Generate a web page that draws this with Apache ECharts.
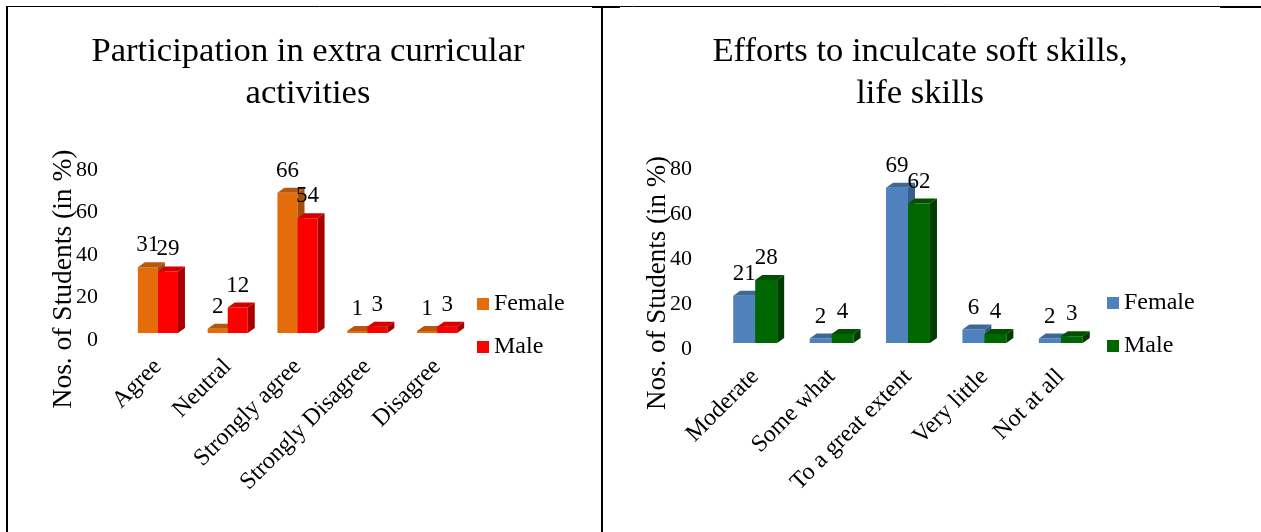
<!DOCTYPE html>
<html>
<head>
<meta charset="utf-8">
<script src="https://cdn.jsdelivr.net/npm/echarts@6/dist/echarts.min.js"></script>
<style>
html,body{margin:0;padding:0;background:#fff;}
#c{width:1261px;height:532px;}
</style>
</head>
<body>
<div id="c"></div>
<script>
// ---- data ----
const categoriesA = ['Agree', 'Neutral', 'Strongly agree', 'Strongly Disagree', 'Disagree'];
const femaleA = [31, 2, 66, 1, 1];
const maleA = [29, 12, 54, 3, 3];

const categoriesB = ['Moderate', 'Some what', 'To a great extent', 'Very little', 'Not at all'];
const femaleB = [21, 2, 69, 6, 2];
const maleB = [28, 4, 62, 4, 3];

const yTicks = [0, 20, 40, 60, 80];
const titleA = 'Participation in extra curricular\nactivities';
const titleB = 'Efforts to inculcate soft skills,\nlife skills';
const yName = 'Nos. of Students (in %)';

// ---- styles ----
const FONT = '"Liberation Serif", "Times New Roman", serif';
const colA = { f: ['#E46C0A', '#B4580C', '#A04E0A'], m: ['#FF0000', '#D40000', '#A80000'] };
const colB = { f: ['#4F81BD', '#3E6896', '#385D8A'], m: ['#006600', '#005000', '#003C00'] };

function make3D(colors, side) {
  return function (params, api) {
    const cat = api.value(0), val = api.value(1);
    const base = api.coord([cat, 0]);
    const top = api.coord([cat, val]);
    const band = api.size([1, 0])[0];
    const bw = band * 0.2875;
    const x0 = side < 0 ? base[0] - bw : base[0];
    const x1 = x0 + bw;
    const yb = base[1], yt = top[1];
    const dx = 7, dy = 5;
    return {
      type: 'group',
      children: [
        { type: 'rect', shape: { x: x0, y: yt, width: bw, height: yb - yt }, style: { fill: colors[0] } },
        { type: 'polygon', shape: { points: [[x0, yt], [x0 + dx, yt - dy], [x1 + dx, yt - dy], [x1, yt]] }, style: { fill: colors[1] } },
        { type: 'polygon', shape: { points: [[x1, yt], [x1 + dx, yt - dy], [x1 + dx, yb - dy], [x1, yb]] }, style: { fill: colors[2] } },
        { type: 'text', x: (x0 + x1) / 2, y: yt - 22,
          style: { text: String(val), align: 'center', verticalAlign: 'middle', fontSize: 23, fontFamily: FONT, fill: '#000' } }
      ]
    };
  };
}

function toData(arr) { return arr.map((v, i) => [i, v]); }

function xAxisFor(cats, idx) {
  return {
    type: 'category', gridIndex: idx, data: cats,
    axisLine: { show: false }, axisTick: { show: false }, splitLine: { show: false },
    axisLabel: { interval: 0, rotate: 45, margin: 30, fontSize: 24, fontFamily: FONT, color: '#000' }
  };
}
function yAxisFor(idx, shift) {
  return {
    type: 'value', gridIndex: idx, min: yTicks[0], max: yTicks[yTicks.length - 1], interval: 20,
    axisLine: { show: false }, axisTick: { show: false }, splitLine: { show: false },
    axisLabel: { margin: 25, fontSize: 22, fontFamily: FONT, color: '#000', verticalAlign: 'top', lineHeight: shift * 2 }
  };
}

const chart = echarts.init(document.getElementById('c'), null, { renderer: 'canvas' });
chart.setOption({
  animation: false,
  backgroundColor: '#fff',
  title: [
    { text: titleA, left: 308, top: 31, textAlign: 'center', padding: 0,
      textStyle: { fontFamily: FONT, fontSize: 34.6, fontWeight: 'normal', color: '#000', lineHeight: 42 } },
    { text: titleB, left: 920, top: 31, textAlign: 'center', padding: 0,
      textStyle: { fontFamily: FONT, fontSize: 34.6, fontWeight: 'normal', color: '#000', lineHeight: 42 } }
  ],
  legend: [
    { orient: 'vertical', left: 477, top: 292, itemWidth: 12, itemHeight: 12, itemGap: 19, icon: 'rect', padding: 0,
      textStyle: { fontFamily: FONT, fontSize: 24, color: '#000', lineHeight: 24 },
      data: [{ name: 'Female', itemStyle: { color: colA.f[0] } }, { name: 'Male', itemStyle: { color: colA.m[0] } }] },
    { orient: 'vertical', left: 1107, top: 291, itemWidth: 12, itemHeight: 12, itemGap: 19, icon: 'rect', padding: 0,
      textStyle: { fontFamily: FONT, fontSize: 24, color: '#000', lineHeight: 24 },
      data: [{ name: 'Female', itemStyle: { color: colB.f[0] } }, { name: 'Male', itemStyle: { color: colB.m[0] } }] }
  ],
  grid: [
    { left: 123, top: 163, width: 349, height: 170 },
    { left: 717, top: 163, width: 382, height: 180 }
  ],
  xAxis: [xAxisFor(categoriesA, 0), xAxisFor(categoriesB, 1)],
  yAxis: [yAxisFor(0, 7), yAxisFor(1, 6)],
  series: [
    { name: 'Female', type: 'custom', xAxisIndex: 0, yAxisIndex: 0, itemStyle: { color: colA.f[0] },
      renderItem: make3D(colA.f, -1), data: toData(femaleA), encode: { x: 0, y: 1 } },
    { name: 'Male', type: 'custom', xAxisIndex: 0, yAxisIndex: 0, itemStyle: { color: colA.m[0] },
      renderItem: make3D(colA.m, 1), data: toData(maleA), encode: { x: 0, y: 1 } },
    { name: 'Female', type: 'custom', xAxisIndex: 1, yAxisIndex: 1, itemStyle: { color: colB.f[0] },
      renderItem: make3D(colB.f, -1), data: toData(femaleB), encode: { x: 0, y: 1 } },
    { name: 'Male', type: 'custom', xAxisIndex: 1, yAxisIndex: 1, itemStyle: { color: colB.m[0] },
      renderItem: make3D(colB.m, 1), data: toData(maleB), encode: { x: 0, y: 1 } }
  ],
  graphic: [
    { type: 'text', x: 64, y: 279, rotation: Math.PI / 2,
      style: { text: yName, align: 'center', verticalAlign: 'middle', fontSize: 27.5, fontFamily: FONT, fill: '#000' } },
    { type: 'text', x: 658, y: 283, rotation: Math.PI / 2,
      style: { text: yName, align: 'center', verticalAlign: 'middle', fontSize: 27, fontFamily: FONT, fill: '#000' } },
    { type: 'line', shape: { x1: 6, y1: 6.5, x2: 1261, y2: 6.5 }, style: { stroke: '#000', lineWidth: 1 } },
    { type: 'line', shape: { x1: 592, y1: 7, x2: 620, y2: 7 }, style: { stroke: '#000', lineWidth: 2 } },
    { type: 'line', shape: { x1: 1220, y1: 7, x2: 1261, y2: 7 }, style: { stroke: '#000', lineWidth: 2 } },
    { type: 'line', shape: { x1: 7, y1: 6, x2: 7, y2: 532 }, style: { stroke: '#000', lineWidth: 2 } },
    { type: 'line', shape: { x1: 602, y1: 6, x2: 602, y2: 532 }, style: { stroke: '#000', lineWidth: 2 } }
  ]
});
</script>
</body>
</html>
